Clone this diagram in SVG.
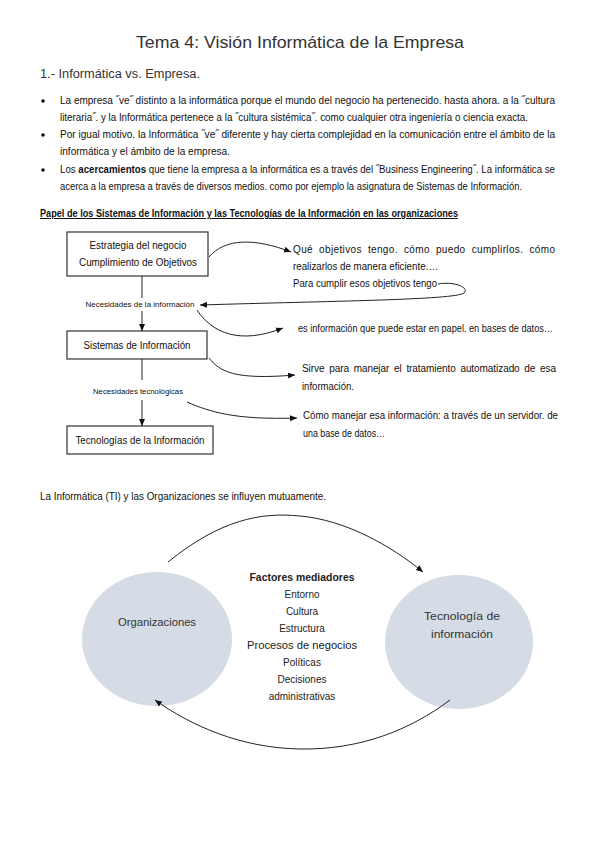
<svg xmlns="http://www.w3.org/2000/svg" width="599" height="848" viewBox="0 0 599 848">
<defs>
<marker id="ah" markerWidth="8" markerHeight="8" refX="7" refY="4" orient="auto" markerUnits="userSpaceOnUse">
<path d="M0,1 L7,4 L0,7 Z" fill="#111"/>
</marker>
<style>
text{font-family:"Liberation Sans",Arial,sans-serif;fill:#111}
.title{font-size:17px;fill:#333}
.sub{font-size:12px;fill:#333}
.body{font-size:10px}
.head{font-size:10px;font-weight:bold;text-decoration:underline}
.box{font-size:10px;text-anchor:middle}
.lbl{font-size:7px;text-anchor:middle}
.note{font-size:10px}
.fac{font-size:10px;text-anchor:middle;fill:#222}
.circ{font-size:10.5px;text-anchor:middle;fill:#333}
rect.n{fill:#fff;stroke:#333;stroke-width:1.2}
.conn path,.conn line{fill:none;stroke:#222;stroke-width:1}
ellipse.c{fill:#d6dce5}
</style>
</defs>

<g id="header">
<text class="title" x="300" y="48" text-anchor="middle" textLength="328" lengthAdjust="spacingAndGlyphs">Tema 4: Visión Informática de la Empresa</text>
<text class="sub" x="40" y="78" textLength="160" lengthAdjust="spacingAndGlyphs">1.- Informática vs. Empresa.</text>
</g>

<g id="bullets">
<circle cx="43" cy="101" r="1.8" fill="#111"/>
<circle cx="43" cy="135" r="1.8" fill="#111"/>
<circle cx="43" cy="170" r="1.8" fill="#111"/>
<text class="body" x="60" y="104" textLength="495" lengthAdjust="spacingAndGlyphs">La empresa ˝ve˝ distinto a la informática porque el mundo del negocio ha pertenecido. hasta ahora. a la ˝cultura</text>
<text class="body" x="60" y="121" textLength="468" lengthAdjust="spacingAndGlyphs">literaria˝. y la Informática pertenece a la ˝cultura sistémica˝. como cualquier otra ingeniería o ciencia exacta.</text>
<text class="body" x="60" y="138" textLength="495" lengthAdjust="spacingAndGlyphs">Por igual motivo. la Informática ˝ve˝ diferente y hay cierta complejidad en la comunicación entre el ámbito de la</text>
<text class="body" x="60" y="155" textLength="170" lengthAdjust="spacingAndGlyphs">informática y el ámbito de la empresa.</text>
<text class="body" x="60" y="173" textLength="495" lengthAdjust="spacingAndGlyphs">Los <tspan font-weight="bold">acercamientos</tspan> que tiene la empresa a la informática es a través del ˝Business Engineering˝. La informática se</text>
<text class="body" x="60" y="190" textLength="462" lengthAdjust="spacingAndGlyphs">acerca a la empresa a través de diversos medios. como por ejemplo la asignatura de Sistemas de Información.</text>
</g>

<g id="heading">
<text class="head" x="40" y="217" textLength="418" lengthAdjust="spacingAndGlyphs">Papel de los Sistemas de Información y las Tecnologías de la Información en las organizaciones</text>
</g>

<g id="node-estrategia">
<rect class="n" x="67" y="232" width="141" height="44"/>
<text class="box" x="138" y="249" textLength="97" lengthAdjust="spacingAndGlyphs">Estrategia del negocio</text>
<text class="box" x="138" y="266" textLength="118" lengthAdjust="spacingAndGlyphs">Cumplimiento de Objetivos</text>
</g>

<g id="label-necesidades-info">
<text class="lbl" x="140" y="307" textLength="109" lengthAdjust="spacingAndGlyphs">Necesidades de la información</text>
</g>

<g id="node-sistemas">
<rect class="n" x="67" y="331" width="140" height="28"/>
<text class="box" x="137" y="349" textLength="107" lengthAdjust="spacingAndGlyphs">Sistemas de Información</text>
</g>

<g id="label-necesidades-tec">
<text class="lbl" x="138" y="394" textLength="90" lengthAdjust="spacingAndGlyphs">Necesidades tecnológicas</text>
</g>

<g id="node-tecnologias">
<rect class="n" x="67" y="426" width="146" height="28"/>
<text class="box" x="140" y="444" textLength="129" lengthAdjust="spacingAndGlyphs">Tecnologías de la Información</text>
</g>

<g id="notes">
<text class="note" x="293" y="253" textLength="262" lengthAdjust="spacing" word-spacing="3">Qué objetivos tengo. cómo puedo cumplirlos. cómo</text>
<text class="note" x="293" y="270" textLength="145" lengthAdjust="spacingAndGlyphs">realizarlos de manera eficiente….</text>
<text class="note" x="293" y="287" textLength="144" lengthAdjust="spacingAndGlyphs">Para cumplir esos objetivos tengo</text>
<text class="note" x="298" y="332" textLength="255" lengthAdjust="spacingAndGlyphs">es información que puede estar en papel. en bases de datos…</text>
<text class="note" x="302" y="372" textLength="254" lengthAdjust="spacing" word-spacing="2">Sirve para manejar el tratamiento automatizado de esa</text>
<text class="note" x="302" y="390" textLength="52" lengthAdjust="spacingAndGlyphs">información.</text>
<text class="note" x="303" y="419" textLength="255" lengthAdjust="spacingAndGlyphs">Cómo manejar esa información: a través de un servidor. de</text>
<text class="note" x="303" y="437" textLength="82" lengthAdjust="spacingAndGlyphs">una base de datos…</text>
</g>

<g id="intro2">
<text class="body" x="40" y="500" textLength="286" lengthAdjust="spacingAndGlyphs">La Informática (TI) y las Organizaciones se influyen mutuamente.</text>
</g>

<g id="node-organizaciones">
<ellipse class="c" cx="157" cy="639" rx="75" ry="67"/>
<text class="circ" x="157" y="626" textLength="78" lengthAdjust="spacingAndGlyphs">Organizaciones</text>
</g>

<g id="node-tecnologia">
<ellipse class="c" cx="459" cy="642" rx="74" ry="67"/>
<text class="circ" x="462" y="620" textLength="76" lengthAdjust="spacingAndGlyphs">Tecnología de</text>
<text class="circ" x="462" y="638" textLength="62" lengthAdjust="spacingAndGlyphs">información</text>
</g>

<g id="factores">
<text class="fac" x="302" y="581" font-weight="bold" textLength="105" lengthAdjust="spacingAndGlyphs">Factores mediadores</text>
<text class="fac" x="302" y="598">Entorno</text>
<text class="fac" x="302" y="615">Cultura</text>
<text class="fac" x="302" y="632">Estructura</text>
<text class="fac" x="302" y="649" textLength="110" lengthAdjust="spacingAndGlyphs">Procesos de negocios</text>
<text class="fac" x="302" y="666">Políticas</text>
<text class="fac" x="302" y="683">Decisiones</text>
<text class="fac" x="302" y="700">administrativas</text>
</g>

<g id="connectors" class="conn">
<line x1="142" y1="276" x2="142" y2="298"/>
<line x1="142" y1="311" x2="142" y2="331" marker-end="url(#ah)"/>
<line x1="142" y1="359" x2="142" y2="380"/>
<line x1="142" y1="400" x2="142" y2="426" marker-end="url(#ah)"/>
<path d="M209,257 C225,238 255,238 291,252" marker-end="url(#ah)"/>
<path d="M438,284 C455,281 470,288 464,293 C455,300 330,301 200,305" marker-end="url(#ah)"/>
<path d="M197,310 C212,333 240,345 283,328" marker-end="url(#ah)"/>
<path d="M209,358 C220,372 235,380 295,375" marker-end="url(#ah)"/>
<path d="M187,402 C210,412 235,420 297,418" marker-end="url(#ah)"/>
<path d="M168,562 C220,520 260,512 300,516 C345,520 390,545 423,572" marker-end="url(#ah)"/>
<path d="M450,700 C410,730 360,750 300,749 C240,748 190,725 155,700" marker-end="url(#ah)"/>
</g>
</svg>
